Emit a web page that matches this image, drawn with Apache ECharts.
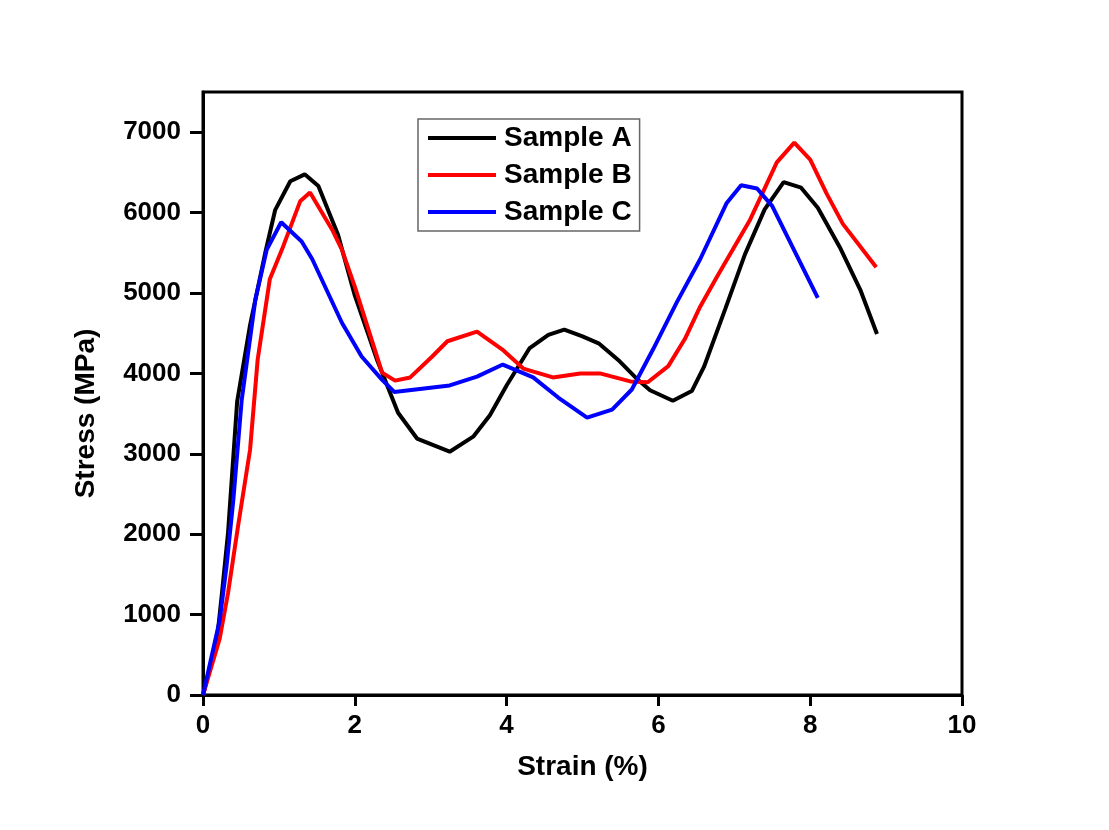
<!DOCTYPE html>
<html>
<head>
<meta charset="utf-8">
<script src="https://cdn.jsdelivr.net/npm/echarts@6/dist/echarts.min.js"></script>
<style>
  html, body { margin: 0; padding: 0; background: #fff; }
  #chart { width: 1109px; height: 830px; }
</style>
</head>
<body>
<div id="chart"></div>
<script>
// values
const strainA = [0, 0.18, 0.25, 0.33, 0.45, 0.62, 0.82, 0.95, 1.15, 1.34, 1.52, 1.78, 2.0, 2.3, 2.57, 2.82, 3.25, 3.56, 3.78, 4.0, 4.3, 4.55, 4.76, 5.0, 5.22, 5.49, 5.73, 5.89, 6.19, 6.44, 6.6, 6.88, 7.14, 7.4, 7.65, 7.88, 8.1, 8.39, 8.66, 8.88]
const stressA = [0, 650, 1270, 2020, 3650, 4600, 5500, 6030, 6390, 6476, 6330, 5720, 4970, 4150, 3510, 3190, 3026, 3213, 3480, 3850, 4310, 4480, 4545, 4460, 4370, 4150, 3920, 3790, 3660, 3780, 4080, 4800, 5480, 6040, 6380, 6310, 6060, 5570, 5040, 4490]

const strainB = [0, 0.22, 0.33, 0.46, 0.62, 0.72, 0.88, 1.04, 1.28, 1.41, 1.7, 1.83, 2.0, 2.36, 2.53, 2.73, 3.02, 3.22, 3.61, 3.94, 4.22, 4.61, 4.97, 5.23, 5.63, 5.86, 6.13, 6.35, 6.55, 6.77, 7.21, 7.56, 7.79, 8.0, 8.22, 8.43, 8.87]
const stressB = [0, 700, 1270, 2090, 3050, 4170, 5170, 5540, 6140, 6250, 5790, 5540, 5080, 4010, 3910, 3950, 4210, 4400, 4520, 4300, 4060, 3950, 4000, 4000, 3900, 3890, 4090, 4430, 4830, 5200, 5915, 6625, 6870, 6660, 6230, 5860, 5320]

const strainC = [0, 0.22, 0.31, 0.4, 0.51, 0.69, 0.84, 1.03, 1.3, 1.44, 1.83, 2.09, 2.36, 2.52, 3.25, 3.61, 3.95, 4.35, 4.68, 5.06, 5.39, 5.65, 5.93, 6.24, 6.55, 6.9, 7.09, 7.3, 7.5, 8.1]
const stressC = [0, 930, 1600, 2430, 3670, 4920, 5540, 5880, 5640, 5420, 4630, 4210, 3920, 3770, 3850, 3960, 4110, 3950, 3700, 3450, 3550, 3800, 4300, 4880, 5420, 6120, 6340, 6300, 6080, 4940]

const sampleNames = ['Sample A', 'Sample B', 'Sample C']
const sampleColors = ['#000000', '#ff0000', '#0000ff']

const pairs = (xs, ys) => xs.map((x, i) => [x, ys[i]])
const sets = [pairs(strainA, stressA), pairs(strainB, stressB), pairs(strainC, stressC)]

const font = 'Liberation Sans, Arial, sans-serif'
const tickText = { color: '#000', fontFamily: font, fontWeight: 'bold', fontSize: 26, formatter: (v) => String(v) }
const nameText = { color: '#000', fontFamily: font, fontWeight: 'bold', fontSize: 28 }

const chart = echarts.init(document.getElementById('chart'))
chart.setOption({
  backgroundColor: '#fff',
  animation: false,
  grid: {
    left: 203, right: 147, top: 92, bottom: 135,
    show: true,
    borderColor: '#000',
    borderWidth: 3
  },
  legend: {
    orient: 'vertical',
    left: 418,
    top: 119,
    padding: [5, 8, 5, 10],
    itemGap: 9,
    itemWidth: 68,
    itemHeight: 4,
    icon: 'rect',
    borderColor: '#666',
    borderWidth: 1.5,
    backgroundColor: '#fff',
    textStyle: { color: '#000', fontFamily: font, fontWeight: 'bold', fontSize: 28, lineHeight: 28, padding: [0, 0, 0, 3] },
    data: sampleNames
  },
  xAxis: {
    type: 'value',
    min: 0,
    max: 10,
    interval: 2,
    name: 'Strain (%)',
    nameLocation: 'middle',
    nameGap: 58,
    nameTextStyle: nameText,
    axisLine: { show: true, lineStyle: { color: '#000', width: 3 } },
    axisTick: { show: true, inside: false, length: 11, lineStyle: { color: '#000', width: 3 } },
    axisLabel: Object.assign({ margin: 18 }, tickText),
    splitLine: { show: false }
  },
  yAxis: {
    type: 'value',
    min: 0,
    max: 7500,
    interval: 1000,
    name: 'Stress (MPa)',
    nameLocation: 'middle',
    nameGap: 103,
    nameTextStyle: Object.assign({ padding: [0, 40, 0, 0] }, nameText),
    axisLine: { show: true, lineStyle: { color: '#000', width: 3 } },
    axisTick: { show: true, inside: false, length: 13, lineStyle: { color: '#000', width: 3 } },
    axisLabel: Object.assign({ margin: 22, showMaxLabel: false }, tickText),
    splitLine: { show: false }
  },
  series: sampleNames.map((name, i) => ({
    name: name,
    type: 'line',
    data: sets[i],
    showSymbol: false,
    symbol: 'none',
    color: sampleColors[i],
    lineStyle: { color: sampleColors[i], width: 4 }
  }))
})
</script>
</body>
</html>
